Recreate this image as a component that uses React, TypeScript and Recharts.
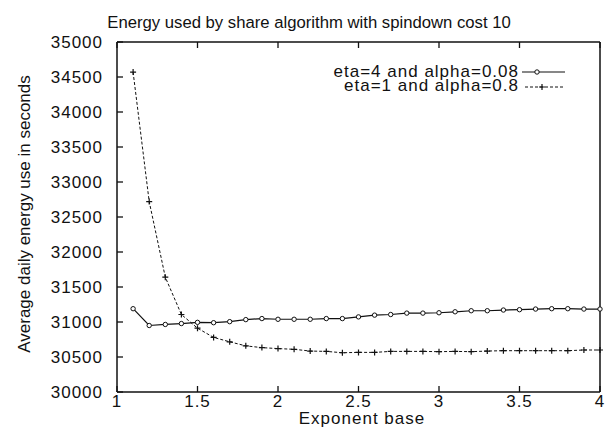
import { LineChart, Line, XAxis, YAxis } from 'recharts';

// exponent base (x) values, one point every 0.1
const xValues = [
  1.1, 1.2, 1.3, 1.4, 1.5, 1.6, 1.7, 1.8, 1.9, 2.0,
  2.1, 2.2, 2.3, 2.4, 2.5, 2.6, 2.7, 2.8, 2.9, 3.0,
  3.1, 3.2, 3.3, 3.4, 3.5, 3.6, 3.7, 3.8, 3.9, 4.0,
];

// eta=4 and alpha=0.08 (solid, circles)
const eta4Alpha008 = [
  31190, 30950, 30965, 30978, 30995, 30990, 31005, 31034, 31049, 31039,
  31039, 31039, 31049, 31049, 31073, 31098, 31107, 31127, 31127, 31132,
  31146, 31161, 31161, 31171, 31176, 31185, 31190, 31190, 31185, 31185,
];

// eta=1 and alpha=0.8 (dashed, plus marks)
const eta1Alpha08 = [
  34570, 32720, 31640, 31107, 30912, 30780, 30717, 30659, 30634, 30620,
  30610, 30585, 30580, 30561, 30566, 30566, 30580, 30580, 30580, 30576,
  30580, 30576, 30585, 30590, 30590, 30590, 30590, 30590, 30600, 30600,
];

const xTicks = [1, 1.5, 2, 2.5, 3, 3.5, 4];
const yTicks = [30000, 30500, 31000, 31500, 32000, 32500, 33000, 33500, 34000, 34500, 35000];

const seriesNames = ['eta=4 and alpha=0.08', 'eta=1 and alpha=0.8'];

const data = xValues.map((x, i) => ({ x, a: eta4Alpha008[i], b: eta1Alpha08[i] }));

const FONT = '"Liberation Sans", Arial, Helvetica, sans-serif';
const INK = '#111';
const TL = 6; // tick length
const TW = 1.3; // tick thickness

// gnuplot style: tick marks point into the plot, labels sit outside
const LeftTick = (props: any) => {
  const { x, y, payload } = props;
  return (
    <g>
      <rect x={x + 14} y={y - TW / 2} width={TL} height={TW} fill={INK} />
      <text x={x} y={y} dy="0.36em" textAnchor="end" fontFamily={FONT} fontSize={17} letterSpacing={1} fill={INK}>
        {payload.value}
      </text>
    </g>
  );
};

const BottomTick = (props: any) => {
  const { x, y, payload } = props;
  return (
    <g>
      <rect x={x - TW / 2} y={y - 3 - TL} width={TW} height={TL} fill={INK} />
      <text x={x} y={y} dy="0.71em" textAnchor="middle" fontFamily={FONT} fontSize={17} letterSpacing={1} fill={INK}>
        {payload.value}
      </text>
    </g>
  );
};

const TopTick = (props: any) => {
  const { x, y } = props;
  return <rect x={x - TW / 2} y={y} width={TW} height={TL} fill={INK} />;
};

const RightTick = (props: any) => {
  const { x, y } = props;
  return <rect x={x - TL} y={y - TW / 2} width={TL} height={TW} fill={INK} />;
};

const PlusDot = (props: any) => {
  const { cx, cy, index } = props;
  if (cx == null || cy == null) return <g key={`p-${index}`} />;
  return (
    <path
      key={`p-${index}`}
      d={`M${cx - 3},${cy}h6M${cx},${cy - 3}v6`}
      stroke={INK}
      strokeWidth={1.2}
      fill="none"
    />
  );
};

const axisLine = { stroke: INK, strokeWidth: 1.5 };

export default function App() {
  return (
    <div style={{ position: 'absolute', left: 0, top: 0, width: 606, height: 436, background: '#fff' }}>
      <LineChart width={606} height={436} data={data} margin={{ top: 41, right: 5, bottom: 0, left: 0 }}>
        <XAxis
          xAxisId="b"
          dataKey="x"
          type="number"
          domain={[1, 4]}
          ticks={xTicks}
          interval={0}
          height={44}
          tickSize={0}
          tickMargin={3}
          tickLine={false}
          tick={BottomTick}
          axisLine={axisLine}
        />
        <XAxis
          xAxisId="t"
          orientation="top"
          dataKey="x"
          type="number"
          domain={[1, 4]}
          ticks={xTicks}
          interval={0}
          height={1}
          tickSize={0}
          tickMargin={0}
          tickLine={false}
          tick={TopTick}
          axisLine={axisLine}
        />
        <YAxis
          yAxisId="l"
          type="number"
          domain={[30000, 35000]}
          ticks={yTicks}
          interval={0}
          width={117}
          tickSize={0}
          tickMargin={14}
          tickLine={false}
          tick={LeftTick}
          axisLine={axisLine}
        />
        <YAxis
          yAxisId="r"
          orientation="right"
          type="number"
          domain={[30000, 35000]}
          ticks={yTicks}
          interval={0}
          width={1}
          tickSize={0}
          tickMargin={0}
          tickLine={false}
          tick={RightTick}
          axisLine={axisLine}
        />
        <Line
          xAxisId="b"
          yAxisId="l"
          dataKey="a"
          name={seriesNames[0]}
          type="linear"
          stroke={INK}
          strokeWidth={1.2}
          dot={{ r: 2.2, fill: '#fff', stroke: INK, strokeWidth: 1 }}
          isAnimationActive={false}
        />
        <Line
          xAxisId="b"
          yAxisId="l"
          dataKey="b"
          name={seriesNames[1]}
          type="linear"
          stroke={INK}
          strokeWidth={1}
          strokeDasharray="3 2"
          dot={PlusDot}
          isAnimationActive={false}
        />
      </LineChart>
      <svg
        width={606}
        height={436}
        style={{ position: 'absolute', left: 0, top: 0, pointerEvents: 'none' }}
      >
        <g fontFamily={FONT} fontSize={16.7} fill={INK} textAnchor="middle">
          <text x={309} y={28}>Energy used by share algorithm with spindown cost 10</text>
        </g>
        <g fontFamily={FONT} fontSize={17} fill={INK} textAnchor="middle">
          <text x={362} y={424} letterSpacing={1}>Exponent base</text>
          <text x={30} y={214} transform="rotate(-90 30 214)">Average daily energy use in seconds</text>
        </g>
        {/* legend */}
        <g fontFamily={FONT} fontSize={17} fill={INK} letterSpacing={1} textAnchor="end">
          <text x={519} y={77}>{seriesNames[0]}</text>
          <text x={519} y={91}>{seriesNames[1]}</text>
        </g>
        <line x1={522} x2={565} y1={72} y2={72} stroke={INK} strokeWidth={1.2} />
        <circle cx={537} cy={72} r={2.2} fill="#fff" stroke={INK} strokeWidth={1} />
        <line x1={525} x2={565} y1={87} y2={87} stroke={INK} strokeWidth={1} strokeDasharray="3 2" />
        <path d="M539,87h6M542,84v6" stroke={INK} strokeWidth={1.2} />
      </svg>
    </div>
  );
}
